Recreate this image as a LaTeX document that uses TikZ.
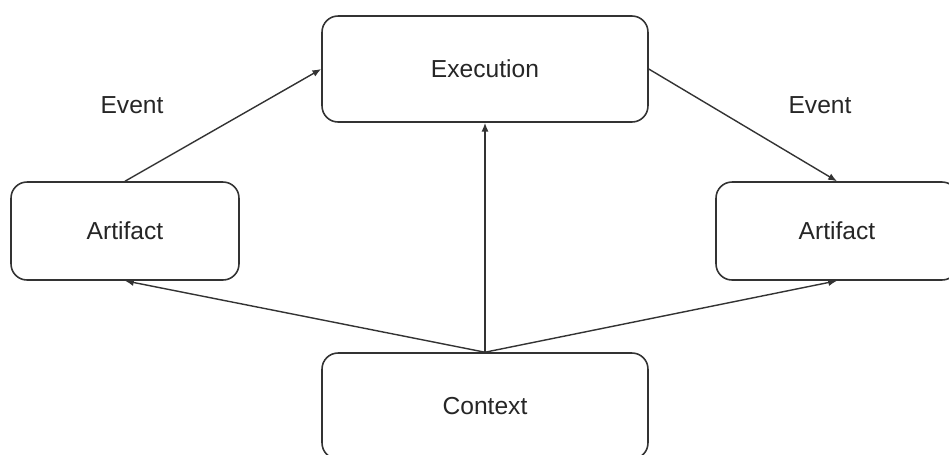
\documentclass[tikz,border=0pt]{standalone}
\usepackage{fontspec}
\setmainfont{Liberation Sans}
\usetikzlibrary{arrows.meta}
\tikzset{
  box/.style={draw=black!80, line width=0.9pt, rounded corners=0.32cm, fill=white, font=\fontsize{14}{17}\selectfont, text=black!85},
  lbl/.style={font=\fontsize{14}{17}\selectfont, text=black!85},
  link/.style={draw=black!80, line width=0.8pt, -{Latex[length=5pt,width=4pt]}}
}
\begin{document}
\begin{tikzpicture}[x=0.02cm,y=-0.02cm]
\useasboundingbox (0,0) rectangle (949,454);
\node[box, minimum width=6.52cm, minimum height=2.12cm] (exec) at (485,69) {Execution};
\node[box, minimum width=4.56cm, minimum height=1.96cm] (artL) at (125,231) {Artifact};
\node[box, minimum width=4.84cm, minimum height=1.96cm] (artR) at (837,231) {Artifact};
\node[box, minimum width=6.52cm, minimum height=2.12cm] (ctx) at (485,406) {Context};
\node[lbl] (evL) at (132,105) {Event};
\node[lbl] (evR) at (820,105) {Event};
\draw[link] (artL.north) -- (exec.west);
\draw[link] (exec.east) -- (artR.north);
\draw[link] (ctx.north) -- (exec.south);
\draw[link] (ctx.north) -- (artL.south);
\draw[link] (ctx.north) -- (artR.south);
\end{tikzpicture}
\end{document}
